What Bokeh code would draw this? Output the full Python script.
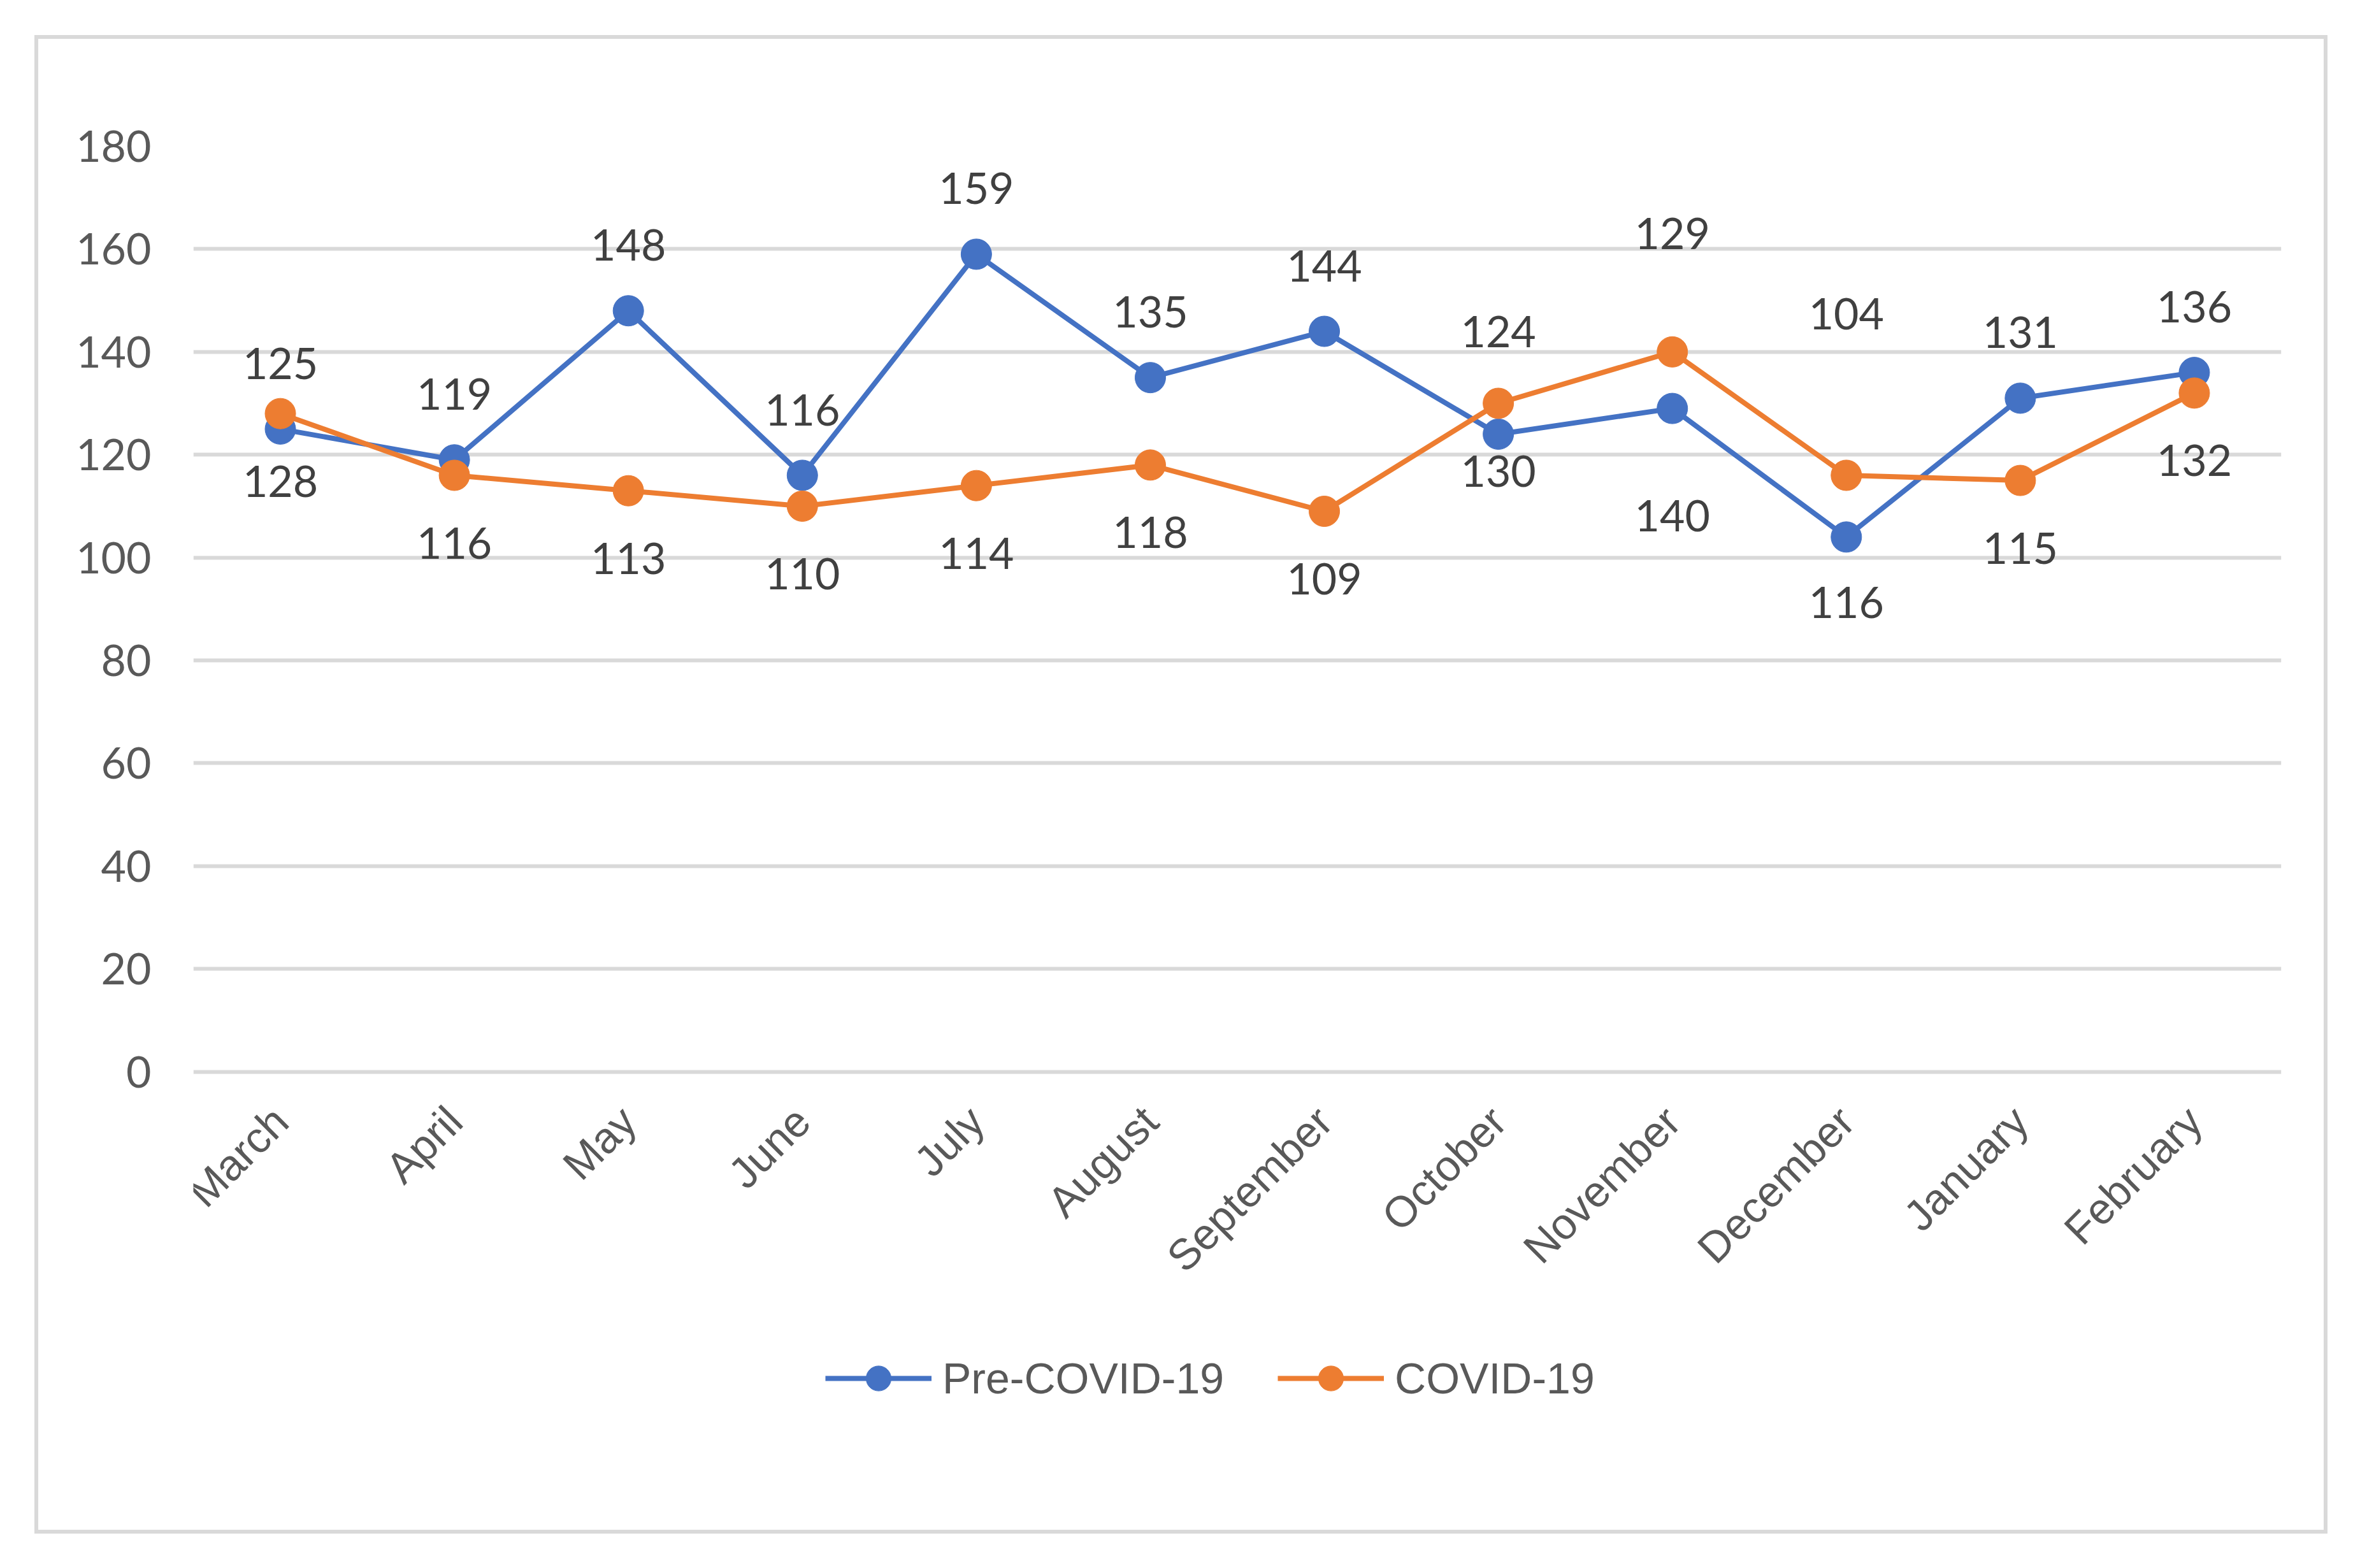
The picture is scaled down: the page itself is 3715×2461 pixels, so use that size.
from math import pi
from bokeh.plotting import figure
from bokeh.models import FactorRange, Range1d, Legend, LegendItem, ColumnDataSource, FixedTicker
from bokeh.core.properties import value
from bokeh.embed import file_html
from bokeh.resources import INLINE

months = ["March", "April", "May", "June", "July", "August", "September",
          "October", "November", "December", "January", "February"]
pre_covid = [125, 119, 148, 116, 159, 135, 144, 124, 129, 104, 131, 136]
covid = [128, 116, 113, 110, 114, 118, 109, 130, 140, 116, 115, 132]
y_ticks = [0, 20, 40, 60, 80, 100, 120, 140, 160, 180]

# label placement (screen px, negative = up), as in the original chart
pre_label_dy = [-103, -103, -103, -103, -103, -103, -103, -161, -275, -350, -103, -103]
covid_label_dy = [106, 106, 106, 106, 106, 106, 106, 106, 257, 199, 106, 106]

BLUE = "#4472C4"
ORANGE = "#ED7D31"
GRID = "#D9D9D9"

# the frame reaches down to the legend; the value axis shows 0..180 only
p = figure(
    width=3587, height=2340,
    x_range=FactorRange(factors=months),
    y_range=Range1d(-90, 180),
    output_backend="svg", toolbar_location=None,
    min_border_left=243, min_border_right=79,
    min_border_top=168, min_border_bottom=5,
)
p.margin = (55, 0, 0, 54)
p.styles = {"border": "6px solid #D9D9D9", "box-sizing": "content-box"}
p.outline_line_color = None
p.background_fill_color = "white"
p.border_fill_color = "white"

# axes
p.yaxis.ticker = FixedTicker(ticks=y_ticks)
for ax in (p.xaxis[0], p.yaxis[0]):
    ax.axis_line_color = None
    ax.major_tick_line_color = None
    ax.minor_tick_line_color = None
    ax.major_tick_out = 0
    ax.major_tick_in = 0
    ax.minor_tick_out = 0
    ax.minor_tick_in = 0
p.xaxis.fixed_location = 0
p.yaxis.major_label_text_font = "Lato"
p.yaxis.major_label_text_font_size = "68px"
p.yaxis.major_label_text_color = "#595959"
p.yaxis.major_label_standoff = 66
p.xaxis.major_label_text_font = "Liberation Sans"
p.xaxis.major_label_text_font_size = "68px"
p.xaxis.major_label_text_color = "#595959"
p.xaxis.major_label_orientation = pi / 4
p.xaxis.major_label_standoff = 66

p.xgrid.grid_line_color = None
p.ygrid.grid_line_color = GRID
p.ygrid.grid_line_width = 6

src = ColumnDataSource(dict(
    m=months, pre=pre_covid, cov=covid,
    pre_t=[str(v) for v in pre_covid], cov_t=[str(v) for v in covid],
    pre_dy=pre_label_dy, cov_dy=covid_label_dy,
))

l1 = p.line("m", "pre", source=src, line_color=BLUE, line_width=8, line_join="round")
s1 = p.scatter("m", "pre", source=src, size=48, fill_color=BLUE, line_color=BLUE)
l2 = p.line("m", "cov", source=src, line_color=ORANGE, line_width=8, line_join="round")
s2 = p.scatter("m", "cov", source=src, size=48, fill_color=ORANGE, line_color=ORANGE)

p.text("m", "pre", text="pre_t", y_offset="pre_dy", source=src,
       text_font=value("Lato"), text_font_size="68px", text_color="#404040",
       text_align="center", text_baseline="middle")
p.text("m", "cov", text="cov_t", y_offset="cov_dy", source=src,
       text_font=value("Lato"), text_font_size="68px", text_color="#404040",
       text_align="center", text_baseline="middle")

legend = Legend(
    items=[LegendItem(label="Pre-COVID-19", renderers=[l1, s1]),
           LegendItem(label="COVID-19", renderers=[l2, s2])],
    orientation="horizontal", location=(992, 196),
    glyph_width=167, glyph_height=98, label_standoff=17, spacing=84,
    padding=0, margin=0, border_line_alpha=0, background_fill_alpha=0,
    label_text_font="Liberation Sans", label_text_font_size="68px",
    label_text_color="#595959", label_text_baseline="middle",
)
p.add_layout(legend, "center")

open("out.html", "w").write(file_html(p, INLINE))
